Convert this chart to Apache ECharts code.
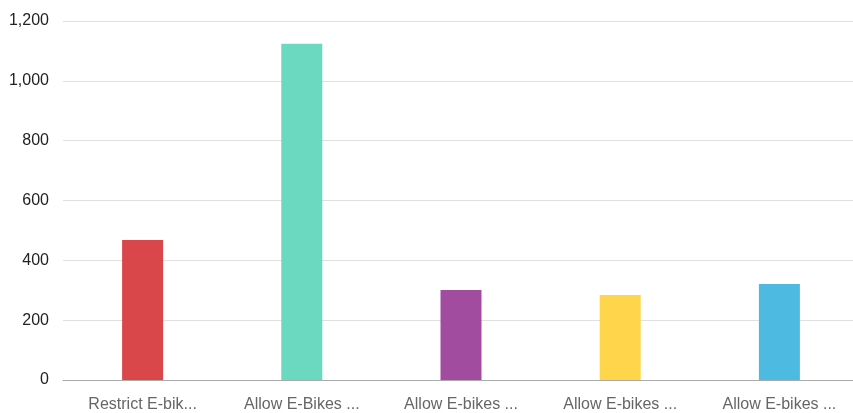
<!DOCTYPE html>
<html><head><meta charset="utf-8">
<script src="https://cdn.jsdelivr.net/npm/echarts@6/dist/echarts.min.js"></script>
<style>html,body{margin:0;padding:0;background:#fff;overflow:hidden}#c{width:860px;height:413px}</style>
</head><body><div id="c"></div>
<script>
const categories = ["Restrict E-bik...", "Allow E-Bikes ...", "Allow E-bikes ...", "Allow E-bikes ...", "Allow E-bikes ..."];
const values = [468, 1124, 301, 284, 321];
const barColors = ["#d9474a", "#6ad9c0", "#a24ca0", "#fed54b", "#4dbae2"];
const yTicks = [0, 200, 400, 600, 800, 1000, 1200];

const chart = echarts.init(document.getElementById('c'));
chart.setOption({
  animation: false,
  grid: {left: 63, right: 1, top: 21, bottom: 33},
  xAxis: {
    type: 'category', data: categories,
    axisLine: {lineStyle: {color: '#aaa', width: 1}},
    axisTick: {alignWithLabel: true, length: 6, lineStyle: {color: '#888'}},
    axisLabel: {color: '#666', fontFamily: 'Liberation Sans', fontSize: 16, margin: 17}
  },
  yAxis: {
    type: 'value', min: yTicks[0], max: yTicks[yTicks.length - 1], interval: 200,
    axisLine: {show: false}, axisTick: {show: false},
    axisLabel: {color: '#222', fontFamily: 'Liberation Sans', fontSize: 16, margin: 14,
      padding: [4, 0, 0, 0],
      formatter: v => v.toLocaleString('en-US')},
    splitLine: {lineStyle: {color: '#e0e0e0'}}
  },
  series: [{
    type: 'bar', barWidth: 41,
    data: values.map((v, i) => ({value: v, itemStyle: {color: barColors[i]}}))
  }]
});
</script></body></html>
